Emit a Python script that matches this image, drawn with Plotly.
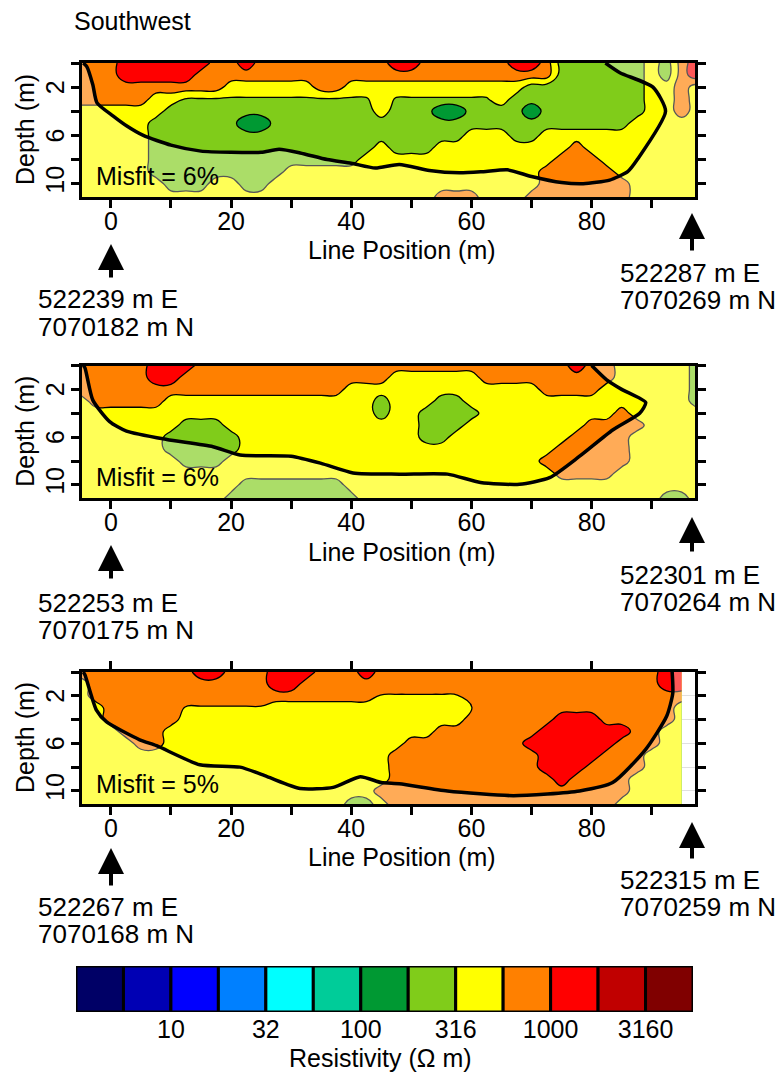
import numpy as np
import plotly.graph_objects as go

W, H = 782, 1075
FONT = "Liberation Sans, Arial, Helvetica, sans-serif"

# ---------------- data ----------------
# grid nodes of the inverted sections (line position m, depth m)
positions = [-5, -2.5, 0, 2.5, 5, 7.5, 10, 12.5, 15, 17.5, 20, 22.5, 25, 27.5, 30,
             32.5, 35, 37.5, 40, 42.5, 45, 47.5, 50, 52.5, 55, 57.5, 60, 62.5, 65,
             67.5, 70, 72.5, 75, 77.5, 80, 82.5, 85, 87.5, 90, 92.5, 95, 97.5]
depths = [0, 1, 2, 3, 4, 5, 6, 7, 8, 9, 10, 11.2]

# resistivity classes read from the sections (ohm m)
RES = {"D": 105, "g": 240, "h": 300, "y": 420, "Y": 540, "o": 750, "r": 1500}

section1 = [
    "ooorrrrrro oroooooooo orroooooor roggggggyg or",
    "ooorrrrroo oooooooooo oooooooooo ooggggggyg or",
    "oooooooooo yyyyyyooyy yyyyyyyyyy ggggggggyy oy",
    "oooooyyhhh hhhhhhhhhh yhhhhhhhyg ggggggggyy oy",
    "yyyyyygggg gggggggggg ygggDDgggg Dgggggggyy oy",
    "yyyyyggggg gDDggggggg gggggggggg gggggggyyy yy",
    "yyyyyggggg gggggggggg ggggggyyyg gyyyyyyyyy yy",
    "yyyyyggggg gggggggggg ygggyyyyyy yyyoyyyyyy yy",
    "yyyyyggggg gggggggggy yyyyyyyyyy yyoooyyyyy yy",
    "yyyyyggggg ggggyyyyyy yyyyyyyyyy yoooooyyyy yy",
    "yyyyyygggy yggyyyyyyy yyyyyyyyyy yooooooyyy yy",
    "yyyyyyyyyy yyyyyyyyyy yyyyoooyyy oooooooyyy yy",
]
section2 = [
    "ooooorrroo oooooooooo oooooooooo ooorooyyyy yg",
    "ooooorrooo oooooooooo oyyyyyyooo ooooooyyyy yg",
    "oooooooooo ooooooooyy yyyyyyyyyy yooooyyyyy yg",
    "yoooooyyyy yyyyyyyyyy gyyyggyyyy yyyyyyyyyy yg",
    "yyyyyyyyyy yyyyyyyyyy gyyggggyyy yyyyyyoyyy yy",
    "yyyyyyyggg yyyyyyyyyy yyygggyyyy yyyyooooyy yy",
    "yyyyyygggg gyyyyyyyyy yyyggyyyyy yyyooooyyy yy",
    "yyyyyygggg gyyyyyyyyy yyyyyyyyyy yyoooooyyy yy",
    "yyyyyyyggg yyyyyyyyyy yyyyyyyyyy yooooooyyy yy",
    "yyyyyyyyyy yyyyyyyyyy yyyyyyyyyy yyooooyyyy yy",
    "yyyyyyyyyy ygggggggyy yyyyyyyyyy yyyyyyyyyy yy",
    "yyyyyyyyyy gggggggggy yyyyyyyyyy yyyyyyyyyg gy",
]
section3 = [
    "oooooooorr ooorrrooor oooooooooo ooooooooor r",
    "yooooooooo ooorrooooo oooooooooo ooooooooor r",
    "yooooooooo oooooooooo YYYYYYoooo oooooooooo o",
    "yyoooooYYY YYYyyyyyyy yyyyyyYooo oooooooooo y",
    "yyoooooyyy yyyyyyyyyy yyyyyyoooo oorrrooooo y",
    "yyyoooyyyy yyyyyyyyyy yyyyoooooo orrrrrrooy y",
    "yyyyooyyyy yyyyyyyyyy yyoooooooo rrrrrroooy y",
    "yyyyyyyyyy yyyyyyyyyy yooooooooo orrrroooyy y",
    "yyyyyyyyyy yyyyyyyyyy yooooooooo orrrooooyy y",
    "yyyyyyyyyy yyyyyyyyyy yooooooooo oorooooyyy y",
    "yyyyyyyyyy yyyyyyyyyy oooooooooo oooooooyyy y",
    "yyyyyyyyyy yyyyyyyygg yooooooooo ooooooyyyy y",
]

# depth-of-investigation outlines (line position m, depth m)
doi1_x = [-4.6, -4.0, -3.0, -2.3, 0.4, 2.6, 5.4, 10, 15, 20, 25, 28, 31.5, 36, 40, 44, 48,
          53, 58, 62, 66, 70, 75, 78.6, 83, 86, 87.6, 92.3, 90.2, 84.7, 82.3]
doi1_d = [0, 0.3, 1.8, 3.3, 4.4, 5.2, 6.0, 6.8, 7.3, 7.4, 7.4, 7.15, 7.45, 8.0, 8.3, 8.7, 8.4,
          8.9, 9.1, 9.0, 8.85, 9.4, 9.9, 10.0, 9.7, 9.0, 8.0, 4.0, 2.0, 0.8, 0]
doi2_x = [-4.6, -4.3, -3.0, -0.2, 2.6, 9.3, 17, 21.5, 30, 35, 40.3, 48, 56, 61.5, 68, 73, 78,
          83.5, 88, 89, 85, 82.5, 80]
doi2_d = [0, 0.2, 2.9, 4.7, 5.5, 6.2, 6.8, 7.5, 7.6, 8.2, 9.0, 9.1, 9.1, 9.8, 9.95, 9.4, 7.6,
          5.4, 4.0, 3.1, 2.0, 1.2, 0]
doi3_x = [-4.6, -4.3, -2.4, -0.7, 4.8, 7.6, 14.8, 21.5, 26, 31.5, 37, 41.5, 45, 48, 56, 67, 78,
          83.5, 89, 92.5, 93.5, 93.4]
doi3_d = [0, 0.25, 3.2, 4.2, 5.7, 6.2, 7.8, 8.0, 8.8, 9.8, 9.7, 8.8, 9.3, 9.4, 10.0, 10.4, 10.0,
          9.3, 6.5, 3.7, 1.8, 0]

misfits = ["Misfit = 6%", "Misfit = 6%", "Misfit = 5%"]
start_coords = [("522239 m E", "7070182 m N"), ("522253 m E", "7070175 m N"),
                ("522267 m E", "7070168 m N")]
end_coords = [("522287 m E", "7070269 m N"), ("522301 m E", "7070264 m N"),
              ("522315 m E", "7070259 m N")]

band_colors = ["#000066", "#0000B4", "#0000FF", "#0080FF", "#00FFFF", "#00CC99", "#009933",
               "#80CC1A", "#FFFF00", "#FF8000", "#FF0000", "#C00000", "#800000"]
cbar_ticks = ["10", "32", "100", "316", "1000", "3160"]

x_ticks = [0, 10, 20, 30, 40, 50, 60, 70, 80, 90]
x_labels = ["0", "", "20", "", "40", "", "60", "", "80", ""]
y_ticks = [0, 2, 4, 6, 8, 10]
y_label_vals = [2, 6, 10]

# ---------------- helpers ----------------
def decode(rows):
    return np.log10(np.array([[RES[c] for c in r.replace(" ", "")] for r in rows], float))

def px(x):
    return x / W

def py(y):
    return 1 - y / H

XR = [-4.8, 97.2]
YR = [11.1, 0]
PLOT_L, PLOT_R = 82, 695
panels = [(63, 197), (365.5, 498), (672, 804)]

colorscale = [[k / 12, band_colors[k]] for k in range(13)]

fig = go.Figure()
sections = [section1, section2, section3]
dois = [(doi1_x, doi1_d), (doi2_x, doi2_d), (doi3_x, doi3_d)]

for i in range(3):
    ax = "" if i == 0 else str(i + 1)
    z = decode(sections[i])
    xs = positions[: z.shape[1]]
    fig.add_trace(go.Contour(
        x=xs, y=depths, z=z, autocontour=False,
        contours=dict(start=0.75, end=3.5, size=0.25, coloring="fill", showlines=True),
        colorscale=colorscale, showscale=False,
        line=dict(color="black", width=1.3, smoothing=1.3),
        xaxis="x" + ax, yaxis="y" + ax, hoverinfo="skip"))
    dx, dd = dois[i]
    fig.add_trace(go.Scatter(
        x=[-8] + dx + [110, 110, -8, -8], y=[0] + dd + [0, 13, 13, 0],
        mode="lines", fill="toself", fillcolor="rgba(255,255,255,0.34)",
        line=dict(width=0), xaxis="x" + ax, yaxis="y" + ax, hoverinfo="skip"))
    fig.add_trace(go.Scatter(
        x=dx, y=dd, mode="lines", line=dict(color="black", width=3.5, shape="spline",
                                             smoothing=0.6),
        xaxis="x" + ax, yaxis="y" + ax, hoverinfo="skip"))

# colour key
fig.add_trace(go.Bar(
    x=list(range(13)), y=[1] * 13, width=1,
    marker=dict(color=band_colors, line=dict(color="black", width=3)),
    xaxis="x4", yaxis="y4", cliponaxis=False, hoverinfo="skip"))
# dummy trace for top ticks on last panel
fig.add_trace(go.Scatter(x=[None], y=[None], xaxis="x5", yaxis="y3", hoverinfo="skip"))

layout = dict(width=W, height=H, margin=dict(l=0, r=0, t=0, b=0),
              paper_bgcolor="white", plot_bgcolor="rgba(0,0,0,0)", showlegend=False,
              font=dict(family=FONT, size=25, color="black"), hovermode=False)

axis_common = dict(showline=True, linewidth=3, linecolor="black", ticks="outside",
                   ticklen=8, tickwidth=3, tickcolor="black", showgrid=True,
                   gridcolor="rgba(150,150,150,0.45)", gridwidth=1, zeroline=False,
                   layer="above traces", tickfont=dict(size=25, family=FONT, color="black"))

for i, (top, bot) in enumerate(panels):
    ax = "" if i == 0 else str(i + 1)
    layout["xaxis" + ax] = dict(axis_common, domain=[px(PLOT_L), px(PLOT_R)],
                                anchor="y" + ax, range=XR, tickvals=x_ticks,
                                ticktext=x_labels, mirror=True, ticklabelstandoff=-8)
    layout["yaxis" + ax] = dict(axis_common, domain=[py(bot), py(top)],
                                anchor="x" + ax, range=YR, tickvals=y_ticks,
                                showticklabels=False, mirror="ticks")

layout["xaxis5"] = dict(overlaying="x3", side="top", anchor="y3", range=XR,
                        tickvals=[0, 20, 40, 60, 80], ticks="outside", ticklen=10,
                        tickwidth=3, tickcolor="black", showticklabels=False,
                        showline=False, showgrid=False, zeroline=False)
layout["xaxis4"] = dict(domain=[px(76), px(693)], anchor="y4", range=[-0.5, 12.5],
                        tickvals=[1.5, 3.5, 5.5, 7.5, 9.5, 11.5], ticktext=cbar_ticks,
                        ticks="", showline=False, showgrid=False, zeroline=False,
                        tickfont=dict(size=25, family=FONT, color="black"))
layout["yaxis4"] = dict(domain=[py(1012), py(966)], anchor="x4", range=[0, 1],
                        visible=False)

ann = []
def text(x, y, s, xanchor="left", size=25, angle=0):
    ann.append(dict(x=px(x), y=py(y), xref="paper", yref="paper", text=s,
                    showarrow=False, xanchor=xanchor, yanchor="middle",
                    textangle=angle, font=dict(size=size, family=FONT, color="black")))

text(72, 21, "Southwest", size=25)
xlab_y = [250, 552, 857]
misfit_y = [176, 477, 784]
left_txt = [(299, 327), (603, 630), (907, 934)]
right_txt = [(273, 300), (575, 602), (880, 907)]
left_arrow = [(244, 279), (545, 580), (848, 887)]
right_arrow = [(213, 252), (517, 553), (822, 860)]
for i, (top, bot) in enumerate(panels):
    ax = "" if i == 0 else str(i + 1)
    text(402, xlab_y[i], "Line Position (m)", xanchor="center", size=25)
    text(25, (top + bot) / 2, "Depth (m)", xanchor="center", size=25, angle=-90)
    for v in y_label_vals:
        ann.append(dict(x=px(55), y=v, xref="paper", yref="y" + ax, text=str(v),
                        showarrow=False, xanchor="center", yanchor="middle",
                        textangle=-90, yshift=(4 if v == 10 else 0),
                        font=dict(size=25, family=FONT, color="black")))
    text(94, misfit_y[i], misfits[i], size=25)
    text(36, left_txt[i][0], start_coords[i][0], size=26)
    text(36, left_txt[i][1], start_coords[i][1], size=26)
    text(618, right_txt[i][0], end_coords[i][0], size=26)
    text(618, right_txt[i][1], end_coords[i][1], size=26)
    for (xa, (tip, tail)) in [(111, left_arrow[i]), (692, right_arrow[i])]:
        ann.append(dict(x=px(xa), y=py(tip), xref="paper", yref="paper", text="",
                        showarrow=True, ax=0, ay=tail - tip, axref="pixel", ayref="pixel",
                        arrowhead=2, arrowsize=1.3, arrowwidth=4, arrowcolor="black",
                        standoff=0))
text(380, 1058, "Resistivity (Ω m)", xanchor="center", size=25)

layout["annotations"] = ann
fig.update_layout(**layout)
fig.write_html("out.html")
